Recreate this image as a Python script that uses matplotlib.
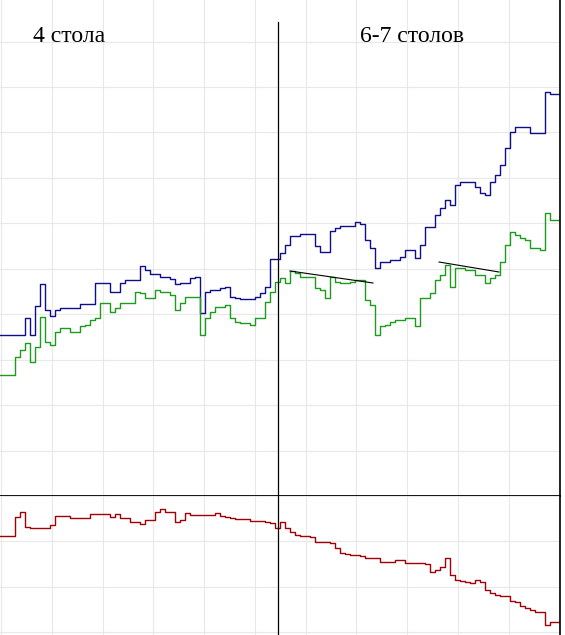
import matplotlib
matplotlib.use("Agg")
import matplotlib.pyplot as plt
import numpy as np

# equity curves, one sample every ~5 trades
blue = [161, 161, 161, 161, 161, 178, 161, 190, 212, 186,
        180, 186, 188, 188, 188, 188, 192, 192, 192, 213,
        213, 213, 204, 204, 213, 216, 216, 216, 230, 226,
        222, 222, 219, 219, 217, 212, 213, 213, 218, 219,
        183, 204, 206, 206, 208, 209, 199, 198, 197, 197,
        197, 199, 203, 209, 237, 237, 243, 251, 260, 260,
        262, 262, 262, 250, 244, 244, 265, 268, 270, 270,
        270, 274, 272, 256, 248, 228, 234, 234, 236, 236,
        239, 246, 246, 238, 251, 269, 269, 281, 288, 296,
        291, 311, 314, 314, 314, 309, 303, 301, 314, 321,
        331, 348, 364, 369, 369, 369, 363, 363, 363, 404,
        402, 402, 402]

green = [121, 121, 121, 139, 146, 153, 134, 149, 179, 154,
         151, 164, 168, 168, 164, 164, 170, 171, 176, 178,
         193, 193, 184, 188, 193, 193, 193, 204, 203, 198,
         198, 206, 204, 204, 201, 186, 193, 199, 199, 199,
         161, 178, 184, 189, 189, 191, 178, 174, 173, 173,
         171, 178, 178, 194, 204, 214, 218, 213, 225, 223,
         219, 219, 219, 208, 206, 198, 219, 214, 213, 213,
         214, 216, 216, 196, 191, 161, 170, 171, 174, 176,
         176, 178, 178, 170, 198, 198, 203, 216, 221, 231,
         209, 228, 228, 226, 226, 221, 221, 213, 218, 221,
         234, 251, 264, 261, 258, 256, 248, 248, 246, 283,
         276, 276, 279]

red = [-40, -40, -40, -21, -16, -31, -32, -32, -32, -32,
       -29, -20, -20, -20, -22, -22, -22, -22, -18, -18,
       -18, -18, -21, -18, -22, -22, -26, -26, -28, -24,
       -24, -16, -13, -16, -16, -26, -24, -17, -19, -19,
       -19, -19, -19, -17, -20, -21, -22, -23, -23, -23,
       -25, -25, -25, -26, -27, -32, -26, -32, -36, -39,
       -40, -40, -41, -46, -46, -46, -47, -52, -57, -58,
       -59, -59, -60, -62, -62, -62, -66, -66, -66, -64,
       -64, -67, -67, -67, -67, -68, -76, -74, -71, -62,
       -79, -84, -85, -86, -87, -84, -86, -94, -97, -99,
       -100, -100, -105, -106, -110, -112, -114, -116, -116, -129,
       -126, -126, -126]

trend1_x = [58, 74.6]
trend1_y = [225, 213]
trend2_x = [87.8, 99.8]
trend2_y = [234, 224]

split_x = 55.6  # switch from 4 to 6-7 tables
label_left = "4 стола"
label_right = "6-7 столов"

x = np.arange(len(blue))

fig = plt.figure(figsize=(5.65, 6.35), dpi=100)
fh = 139 / 635
ax = fig.add_axes([0, fh, 560 / 565, 1 - fh])
ax2 = fig.add_axes([0, 0, 560 / 565, fh])

xt = np.arange(0.2, 112.5, 10.15)
for a in (ax, ax2):
    a.set_xlim(0, 112)
    a.set_xticks(xt)
    a.grid(True, color="#e8e8e8", lw=0.8)
    a.set_axisbelow(True)
    a.tick_params(length=0, labelleft=False, labelbottom=False)
    for s in ("left", "top"):
        a.spines[s].set_visible(False)
    a.spines["right"].set_color("black")
    a.spines["right"].set_linewidth(1.2)

ax.set_ylim(0, 496)
ax.set_yticks(np.arange(0, 496, 45.45))
ax.spines["bottom"].set_color("black")
ax.spines["bottom"].set_linewidth(1.3)
ax2.set_ylim(-139, 0)
ax2.set_yticks(np.arange(0, -139, -45.45))
ax2.spines["bottom"].set_visible(False)

ax.plot(x, blue, drawstyle="steps-post", color="#0f0f8a", lw=1.0)
ax.plot(x, green, drawstyle="steps-post", color="#1c9c1c", lw=1.0)
ax.plot(trend1_x, trend1_y, color="black", lw=0.8)
ax.plot(trend2_x, trend2_y, color="black", lw=0.8)
ax2.plot(x, red, drawstyle="steps-post", color="#a00008", lw=1.0)

ax.axvline(split_x, ymin=0, ymax=(496 - 22) / 496, color="black", lw=0.9)
ax2.axvline(split_x, color="black", lw=0.9)

fig.text(33 / 565, 1 - 36 / 635, label_left, family="Liberation Serif",
         fontsize=17, va="center", ha="left")
fig.text(360 / 565, 1 - 36 / 635, label_right, family="Liberation Serif",
         fontsize=17, va="center", ha="left")

fig.savefig("out.png", dpi=100, facecolor="white")
